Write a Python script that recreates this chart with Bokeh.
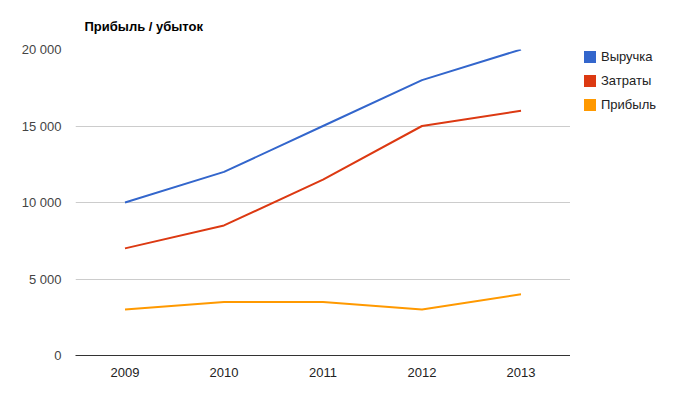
from bokeh.plotting import figure
from bokeh.models import Legend, LegendItem, FixedTicker, Title, Range1d
from bokeh.layouts import row
from bokeh.embed import file_html
from bokeh.resources import INLINE

years = ["2009", "2010", "2011", "2012", "2013"]
revenue = [10000, 12000, 15000, 18000, 20000]
costs = [7000, 8500, 11500, 15000, 16000]
profit = [3000, 3500, 3500, 3000, 4000]
series_names = ["Выручка", "Затраты", "Прибыль"]
colors = ["#3366cc", "#dc3912", "#ff9900"]
y_ticks = [0, 5000, 10000, 15000, 20000]
y_tick_labels = ["0", "5 000", "10 000", "15 000", "20 000"]
title_text = "Прибыль / убыток"

FONT = "Liberation Sans"
H = 391

p = figure(x_range=years, y_range=(0, 20000), width=570, height=H,
           output_backend="svg", toolbar_location=None,
           min_border_left=75, min_border_right=0, min_border_top=47, min_border_bottom=36)
p.outline_line_color = None
p.background_fill_color = "white"
p.border_fill_color = "white"

p.title = Title(text=title_text, text_font=FONT, text_font_size="13px",
                text_font_style="bold", text_color="#000000", align="left",
                standoff=32, offset=9)

for vals, col in zip([revenue, costs, profit], colors):
    p.line(years, vals, line_color=col, line_width=2)

p.xgrid.grid_line_color = None
p.ygrid.grid_line_color = "#cccccc"
p.ygrid.ticker = FixedTicker(ticks=y_ticks)

p.yaxis.ticker = FixedTicker(ticks=y_ticks)
p.yaxis.major_label_overrides = {t: l for t, l in zip(y_ticks, y_tick_labels)}
p.yaxis.axis_line_color = None
p.yaxis.major_tick_line_color = None
p.yaxis.minor_tick_line_color = None
p.yaxis.major_tick_out = 0
p.yaxis.major_tick_in = 0
p.yaxis.major_label_standoff = 14
p.yaxis.major_label_text_font = FONT
p.yaxis.major_label_text_font_size = "13px"
p.yaxis.major_label_text_color = "#444444"

p.xaxis.axis_line_color = "#333333"
p.xaxis.axis_line_width = 1
p.xaxis.major_tick_line_color = None
p.xaxis.minor_tick_line_color = None
p.xaxis.major_tick_out = 0
p.xaxis.major_tick_in = 0
p.xaxis.major_label_standoff = 12
p.xaxis.major_label_text_font = FONT
p.xaxis.major_label_text_font_size = "13px"
p.xaxis.major_label_text_color = "#222222"

# legend panel
lg = figure(width=95, height=H, x_range=Range1d(0, 1), y_range=Range1d(0, 1),
            output_backend="svg", toolbar_location=None,
            x_axis_location=None, y_axis_location=None,
            min_border_left=12, min_border_right=0, min_border_top=47, min_border_bottom=0)
lg.outline_line_color = None
lg.grid.visible = False
lg.border_fill_color = "white"
lg.background_fill_color = "white"

items = []
for name, col in zip(series_names, colors):
    q = lg.quad(left=[float("nan")], right=[float("nan")], top=[float("nan")],
                bottom=[float("nan")], fill_color=col, line_color=None)
    items.append(LegendItem(label=name, renderers=[q]))

legend = Legend(items=items, location="top_left", orientation="vertical",
                glyph_width=15, glyph_height=15, label_height=15, spacing=9,
                label_standoff=4, padding=0, margin=0, border_line_color=None,
                background_fill_alpha=0, label_text_font=FONT,
                label_text_font_size="13px", label_text_color="#222222")
lg.add_layout(legend, "center")

layout = row(p, lg)
open("out.html", "w").write(file_html(layout, INLINE))
